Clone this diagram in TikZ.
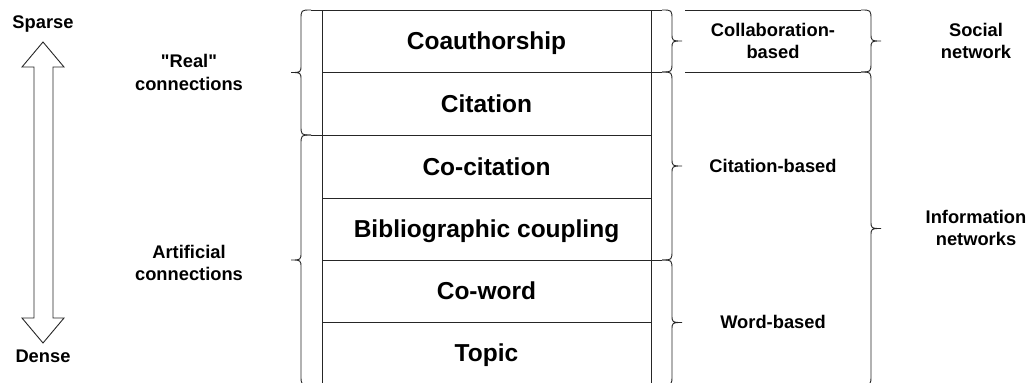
\documentclass[tikz,border=0pt]{standalone}
\usepackage{fontspec}
\setmainfont{Liberation Sans}
\newfontfamily\lsans{Liberation Sans}
\tikzset{
  ln/.style={line width=0.9pt, draw=black!85},
  big/.style={font=\lsans\fontsize{24.5}{29}\selectfont\bfseries, anchor=base, inner sep=0pt},
  small/.style={font=\lsans\fontsize{18.3}{22}\selectfont\bfseries, anchor=base, inner sep=0pt, align=center},
}
\newcommand\BrR[3]{\draw[ln] ({#1-10},#2) .. controls (#1,#2) .. (#1,{#2+10}) -- (#1,{(#2+#3)/2-8}) .. controls (#1,{(#2+#3)/2}) .. ({#1+10},{(#2+#3)/2}) .. controls (#1,{(#2+#3)/2}) .. (#1,{(#2+#3)/2+8}) -- (#1,{#3-10}) .. controls (#1,#3) .. ({#1-10},#3);}
\newcommand\BrL[3]{\draw[ln] ({#1+10},#2) .. controls (#1,#2) .. (#1,{#2+10}) -- (#1,{(#2+#3)/2-8}) .. controls (#1,{(#2+#3)/2}) .. ({#1-10},{(#2+#3)/2}) .. controls (#1,{(#2+#3)/2}) .. (#1,{(#2+#3)/2+8}) -- (#1,{#3-10}) .. controls (#1,#3) .. ({#1+10},#3);}
\begin{document}
\begin{tikzpicture}[x=1pt,y=-1pt]
\useasboundingbox (0,0) rectangle (1029,383);
\clip (0,0) rectangle (1029,383);
% box
\draw[ln] (311,10) -- (662,10);
\draw[ln] (322,10) -- (322,395);
\draw[ln] (651,10) -- (651,395);
\draw[ln] (322,72) -- (662,72);
\draw[ln] (311,135) -- (651,135);
\draw[ln] (322,198) -- (651,198);
\draw[ln] (322,260) -- (662,260);
\draw[ln] (322,322) -- (651,322);
% left braces
\BrL{301}{10}{135}
\BrL{301}{135}{385}
% right braces
\BrR{672}{10}{72}
\BrR{672}{72}{260}
\BrR{672}{260}{385}
\draw[ln] (685,10) -- (861,10);
\draw[ln] (685,72) -- (861,72);
\BrR{871}{10}{72}
\BrR{871}{72}{385}
% arrow
\draw[ln] (43,42) -- (64,67) -- (53,67) -- (53,318) -- (64,318) -- (43,343) -- (22,318) -- (34,318) -- (34,67) -- (22,67) -- cycle;
% texts
\node[small] (sparse) at (43,28) {Sparse};
\node[small] (dense) at (43,362) {Dense};
\node[small] (real1) at (189,67) {"Real"};
\node[small] (real2) at (189,90) {connections};
\node[small] (art1) at (189,258) {Artificial};
\node[small] (art2) at (189,280) {connections};
\node[big] (r1) at (486.5,49.5) {Coauthorship};
\node[big] (r2) at (486.5,112) {Citation};
\node[big] (r3) at (486.5,175) {Co-citation};
\node[big] (r4) at (486.5,237.5) {Bibliographic coupling};
\node[big] (r5) at (486.5,299.5) {Co-word};
\node[big] (r6) at (486.5,361) {Topic};
\node[small] (c1) at (773,36) {Collaboration-};
\node[small] (c2) at (773,58) {based};
\node[small] (cb) at (773,172) {Citation-based};
\node[small] (wb) at (773,328) {Word-based};
\node[small] (s1) at (976,36) {Social};
\node[small] (s2) at (976,58) {network};
\node[small] (i1) at (976,223) {Information};
\node[small] (i2) at (976,245) {networks};
\end{tikzpicture}
\end{document}
